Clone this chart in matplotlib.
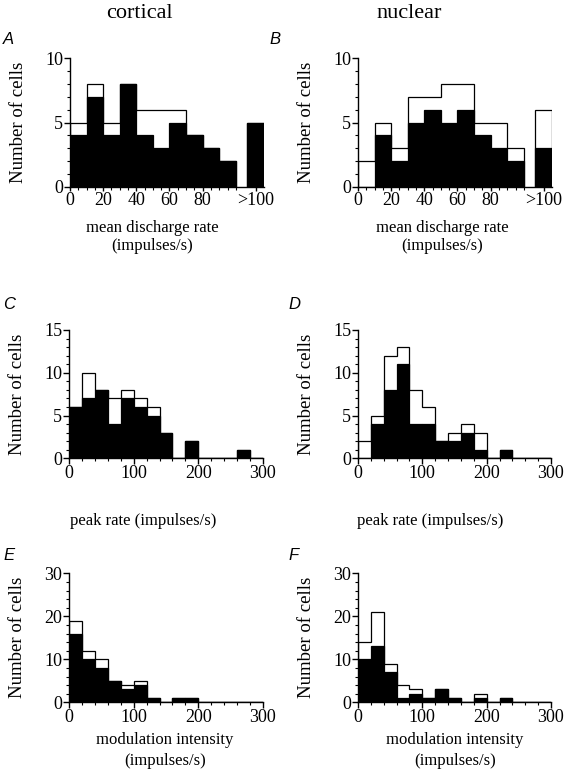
import numpy as np
import matplotlib
matplotlib.use('Agg')
import matplotlib.pyplot as plt
from matplotlib.ticker import MultipleLocator, FixedLocator

plt.rcParams['font.family'] = ['Liberation Serif', 'DejaVu Serif']

# mean discharge rate, bins of 10 (0-100) plus a ">100" bin
mean_edges = np.arange(0, 101, 10)
cort_mean_all = [5, 8, 5, 8, 6, 6, 6, 4, 3, 2]
cort_mean_blk = [4, 7, 4, 8, 4, 3, 5, 4, 3, 2]
cort_mean_over = (5, 5)          # (all, black) for >100
nuc_mean_all = [2, 5, 3, 7, 7, 8, 8, 5, 5, 3]
nuc_mean_blk = [0, 4, 2, 5, 6, 5, 6, 4, 3, 2]
nuc_mean_over = (6, 3)

# peak rate, bins of 20
peak_edges = np.arange(0, 301, 20)
cort_peak_all = [6, 10, 8, 7, 8, 7, 6, 3, 0, 2, 0, 0, 0, 1, 0]
cort_peak_blk = [6, 7, 8, 4, 7, 6, 5, 3, 0, 2, 0, 0, 0, 1, 0]
nuc_peak_all = [2, 5, 12, 13, 8, 6, 2, 3, 4, 3, 0, 1, 0, 0, 0]
nuc_peak_blk = [0, 4, 8, 11, 4, 4, 2, 2, 3, 1, 0, 1, 0, 0, 0]

# modulation intensity, bins of 20
mod_edges = np.arange(0, 301, 20)
cort_mod_all = [19, 12, 10, 5, 4, 5, 1, 0, 1, 1, 0, 0, 0, 0, 0]
cort_mod_blk = [16, 10, 8, 5, 3, 4, 1, 0, 1, 1, 0, 0, 0, 0, 0]
nuc_mod_all = [14, 21, 9, 4, 3, 1, 3, 1, 0, 2, 0, 1, 0, 0, 0]
nuc_mod_blk = [10, 13, 7, 1, 2, 1, 3, 1, 0, 1, 0, 1, 0, 0, 0]

W, H = 566, 773
fig = plt.figure(figsize=(W / 100, H / 100), dpi=100)


def px_axes(x0, x1, ytop, ybot):
    return fig.add_axes([x0 / W, 1 - ybot / H, (x1 - x0) / W, (ybot - ytop) / H])


def draw_hist(ax, edges, all_counts, blk_counts):
    ax.stairs(all_counts, edges, baseline=0, color='black', lw=0.9, zorder=2)
    w = np.diff(edges)
    ax.bar(edges[:-1], blk_counts, width=w, align='edge', color='black',
           edgecolor='black', lw=0.9, zorder=3)


def style(ax, ymax, ymajor, yminor, width_px):
    for s in ['top', 'right']:
        ax.spines[s].set_visible(False)
    for s in ['left', 'bottom']:
        ax.spines[s].set_linewidth(1.0)
    ax.set_ylim(0, ymax)
    ax.yaxis.set_major_locator(MultipleLocator(ymajor))
    ax.yaxis.set_minor_locator(MultipleLocator(yminor))
    ax.tick_params(which='major', direction='out', length=4, width=1, labelsize=13, pad=1)
    ax.tick_params(which='minor', direction='out', length=2, width=0.8)
    ax.set_ylabel('Number of cells', fontsize=13.5)
    ax.yaxis.set_label_coords(-43 / width_px, 0.5)


# ---- A / B : mean discharge rate
for (x0, x1), a, b, over in [((70, 264), cort_mean_all, cort_mean_blk, cort_mean_over),
                             ((358, 552), nuc_mean_all, nuc_mean_blk, nuc_mean_over)]:
    ax = px_axes(x0, x1, 58.3, 186.7)
    draw_hist(ax, mean_edges, a, b)
    ax.stairs([over[0]], [107, 117], baseline=0, color='black', lw=0.9, zorder=2)
    ax.bar([107], [over[1]], width=10, align='edge', color='black', edgecolor='black', lw=0.9, zorder=3)
    ax.set_xlim(0, 117)
    ax.xaxis.set_major_locator(FixedLocator([0, 20, 40, 60, 80, 112]))
    ax.set_xticklabels(['0', '20', '40', '60', '80', '>100'])
    ax.xaxis.set_minor_locator(FixedLocator(np.arange(0, 101, 5)))
    style(ax, 10, 5, 1, x1 - x0)
    ax.tick_params(axis='x', which='major', length=3)

# ---- C / D : peak rate
for (x0, x1), a, b in [((69, 263), cort_peak_all, cort_peak_blk),
                       ((358, 551), nuc_peak_all, nuc_peak_blk)]:
    ax = px_axes(x0, x1, 330, 458.3)
    draw_hist(ax, peak_edges, a, b)
    ax.set_xlim(0, 300)
    ax.xaxis.set_major_locator(MultipleLocator(100))
    ax.xaxis.set_minor_locator(MultipleLocator(20))
    style(ax, 15, 5, 1, x1 - x0)

# ---- E / F : modulation intensity
for (x0, x1), a, b in [((69, 263), cort_mod_all, cort_mod_blk),
                       ((358, 551), nuc_mod_all, nuc_mod_blk)]:
    ax = px_axes(x0, x1, 573.3, 702.3)
    draw_hist(ax, mod_edges, a, b)
    ax.set_xlim(0, 300)
    ax.xaxis.set_major_locator(MultipleLocator(100))
    ax.xaxis.set_minor_locator(MultipleLocator(20))
    style(ax, 30, 10, 2, x1 - x0)


def ftext(x, y, s, **kw):
    fig.text(x / W, 1 - y / H, s, **kw)


# column titles
ftext(139, 13, 'cortical', fontsize=16, ha='center', va='center')
ftext(409, 13, 'nuclear', fontsize=16, ha='center', va='center')

# panel letters
for (x, y), lab in zip([(3, 39), (269, 39), (3, 305), (288, 305), (3, 555), (288, 555)],
                       'ABCDEF'):
    ftext(x, y, lab, fontsize=12, style='italic', family=['Liberation Sans', 'DejaVu Sans'],
          ha='left', va='center')

# x-axis labels
for cx in (152, 442):
    ftext(cx, 228, 'mean discharge rate', fontsize=12, ha='center', va='center')
    ftext(cx, 246, '(impulses/s)', fontsize=12, ha='center', va='center')
for cx in (143, 430):
    ftext(cx, 521, 'peak rate (impulses/s)', fontsize=12, ha='center', va='center')
for cx in (165, 455):
    ftext(cx, 740, 'modulation intensity', fontsize=12, ha='center', va='center')
    ftext(cx, 761, '(impulses/s)', fontsize=12, ha='center', va='center')

fig.savefig('out.png', dpi=100)
